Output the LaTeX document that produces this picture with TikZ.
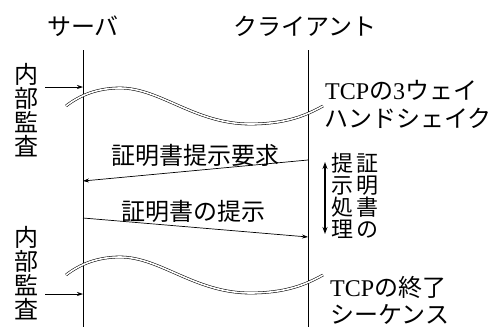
\documentclass[tikz,border=0pt]{standalone}
\usepackage{fontspec}
\setmainfont{Liberation Serif}
\newfontfamily\jp{Noto Sans CJK JP}
\usetikzlibrary{arrows.meta}
\begin{document}
\begin{tikzpicture}[x=1pt,y=-1pt,
  lbl/.style={inner sep=0pt,font=\jp\fontsize{24}{24}\selectfont},
  vlbl/.style={inner sep=0pt,align=center,font=\jp\fontsize{22}{22}\selectfont},
  mixlbl/.style={inner sep=0pt,anchor=west,font=\fontsize{24}{24}\selectfont},
  life/.style={line width=0.8pt},
  msg/.style={line width=0.7pt,-{Stealth[length=6pt,width=4pt]}},
  wave/.style={double,double distance=1.6pt,line width=0.55pt}]
\useasboundingbox (0,0) rectangle (501,327);
% headers
\node[lbl] (srv) at (83,26) {サーバ};
\node[lbl] (cli) at (305,26) {クライアント};
% lifelines
\coordinate (sTop) at (83,50); \coordinate (sBot) at (83,327);
\coordinate (cTop) at (308,50); \coordinate (cBot) at (308,327);
\draw[life] (sTop) -- (sBot);
\draw[life] (cTop) -- (cBot);
% internal audit labels
\node[lbl,align=center] (audit1) at (27,110) {内\\部\\監\\査};
\node[lbl,align=center] (audit2) at (27,273) {内\\部\\監\\査};
\coordinate (a1s) at (45,87); \coordinate (a1e) at (83,87);
\coordinate (a2s) at (45,294); \coordinate (a2e) at (83,294);
\draw[msg] (a1s) -- (a1e);
\draw[msg] (a2s) -- (a2e);
% wavy double lines
\draw[wave] (66,106) .. controls (80,95) and (98,88) .. (120,88)
  .. controls (160,88) and (195,124) .. (250,124)
  .. controls (285,124) and (305,116) .. (323,106);
\draw[wave] (66,275) .. controls (80,264) and (98,257) .. (120,257)
  .. controls (160,257) and (195,293) .. (250,293)
  .. controls (285,293) and (305,285) .. (323,275);
% TCP labels
\node[mixlbl] (tcp1) at (325,90) {TCP{\jp の}3{\jp ウェイ}};
\node[mixlbl,font=\jp\fontsize{24}{24}\selectfont] (tcp2) at (324,118) {ハンドシェイク};
\node[mixlbl] (tcp3) at (330,287) {TCP{\jp の終了}};
\node[mixlbl,font=\jp\fontsize{24}{24}\selectfont] (tcp4) at (330,314) {シーケンス};
% messages
\coordinate (m1s) at (308,160); \coordinate (m1e) at (83,181);
\coordinate (m2s) at (83,218); \coordinate (m2e) at (308,237);
\draw[msg] (m1s) -- (m1e);
\draw[msg] (m2s) -- (m2e);
\node[lbl] (req) at (195,155) {証明書提示要求};
\node[lbl] (pres) at (193,211) {証明書の提示};
% processing
\coordinate (pTop) at (325,162); \coordinate (pBot) at (325,234);
\draw[line width=1.2pt,{Stealth[length=7pt,width=5pt]}-{Stealth[length=7pt,width=5pt]}] (pTop) -- (pBot);
\node[vlbl] (proc1) at (342,196) {提\\示\\処\\理};
\node[vlbl] (proc2) at (367,196) {証\\明\\書\\の};
\end{tikzpicture}
\end{document}
